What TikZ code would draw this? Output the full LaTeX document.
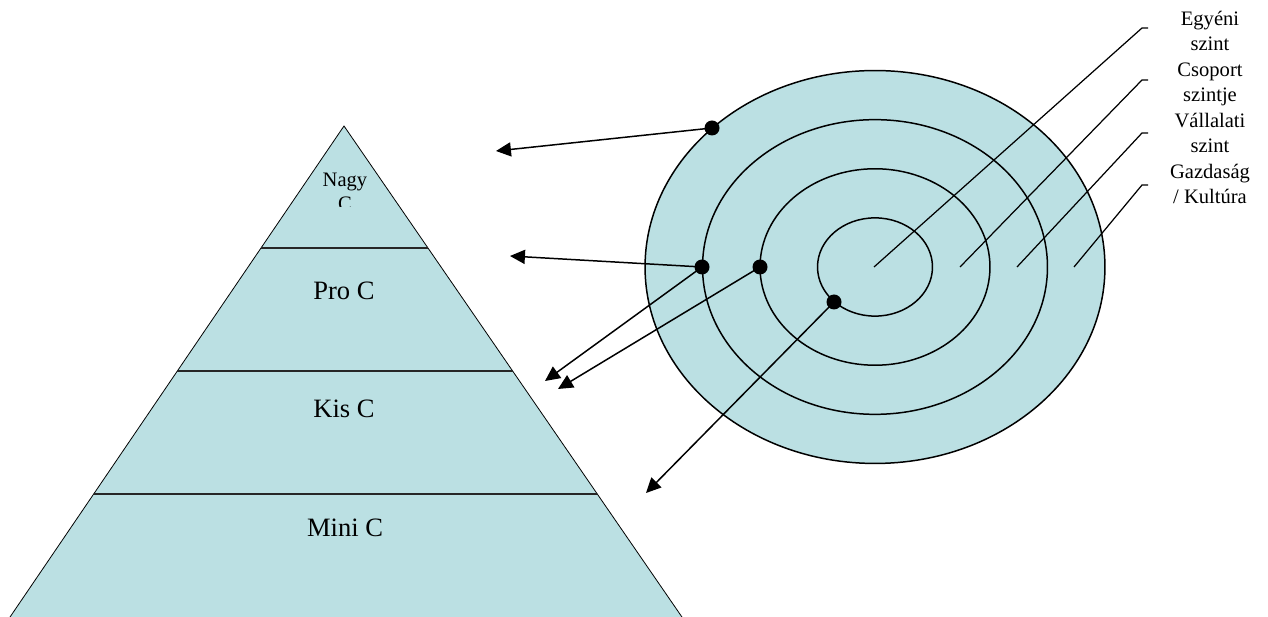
\documentclass[tikz,border=0pt]{standalone}
\usepackage{fontspec}
\setmainfont{Liberation Serif}
\usetikzlibrary{arrows.meta,calc}
\definecolor{pale}{HTML}{BBE0E3}
\begin{document}
\begin{tikzpicture}[x=0.02cm,y=-0.02cm,
  lbl/.style={font=\fontsize{11.7pt}{14pt}\selectfont, anchor=base, inner sep=0pt},
  big/.style={font=\fontsize{15.1pt}{18pt}\selectfont, anchor=base, inner sep=0pt},
  dotn/.style={circle, fill=black, inner sep=0pt, minimum size=0.3cm},
  arr/.style={line width=0.85pt, -{Triangle[length=8.5pt,width=8pt]}},
  lead/.style={line width=0.7pt},
  ring/.style={line width=0.85pt, draw=black},
  band/.style={line width=1.1pt, draw=black!85},
  edge/.style={line width=0.45pt, draw=black}]
\useasboundingbox (0,0) rectangle (1268,617);

% ---------- pyramid ----------
\coordinate (apex) at (344,126);
\coordinate (bl) at (8,620);
\coordinate (br) at (684,620);
\fill[pale] (apex) -- (bl) -- (br) -- cycle;
\draw[edge] (bl) -- (apex) -- (br);
\draw[band] ($(apex)!0.247!(bl)$) -- ($(apex)!0.247!(br)$);
\draw[band] ($(apex)!0.496!(bl)$) -- ($(apex)!0.496!(br)$);
\draw[band] ($(apex)!0.745!(bl)$) -- ($(apex)!0.745!(br)$);

\begin{scope}
  \clip (290,150) rectangle (400,207);
  \node[lbl] (nagy) at (345,187) {Nagy};
  \node[lbl] (nagyc) at (345,211) {C};
\end{scope}
\node[big] (pro) at (344,300) {Pro C};
\node[big] (kis) at (344,418) {Kis C};
\node[big] (mini) at (345,537) {Mini C};

% ---------- rings ----------
\coordinate (ctr) at (875,267);
\fill[pale] (ctr) ellipse [x radius=4.6cm, y radius=3.93cm];
\draw[ring] (ctr) ellipse [x radius=4.6cm, y radius=3.93cm];
\draw[ring] (ctr) ellipse [x radius=3.45cm, y radius=2.9475cm];
\draw[ring] (ctr) ellipse [x radius=2.3cm, y radius=1.965cm];
\draw[ring] (ctr) ellipse [x radius=1.15cm, y radius=0.9825cm];

% ---------- leaders ----------
\coordinate (c1) at (874,267);
\coordinate (c2) at (960,267);
\coordinate (c3) at (1017,267);
\coordinate (c4) at (1074,267);
\coordinate (s1) at (1148,28);  \coordinate (k1) at (1142,28);
\coordinate (s2) at (1148,80);  \coordinate (k2) at (1142,80);
\coordinate (s3) at (1148,133); \coordinate (k3) at (1142,133);
\coordinate (s4) at (1148,185); \coordinate (k4) at (1142,185);
\draw[lead] (s1) -- (k1) -- (c1);
\draw[lead] (s2) -- (k2) -- (c2);
\draw[lead] (s3) -- (k3) -- (c3);
\draw[lead] (s4) -- (k4) -- (c4);

\node[lbl] (l1a) at (1210,26) {Egyéni};
\node[lbl] (l1b) at (1210,51) {szint};
\node[lbl] (l2a) at (1210,77) {Csoport};
\node[lbl] (l2b) at (1210,102) {szintje};
\node[lbl] (l3a) at (1210,128) {Vállalati};
\node[lbl] (l3b) at (1210,153) {szint};
\node[lbl] (l4a) at (1210,179) {Gazdaság};
\node[lbl] (l4b) at (1210,204) {/ Kultúra};

% ---------- arrows ----------
\coordinate (t1) at (496,151);
\coordinate (t2) at (510,256);
\coordinate (t3) at (545,381);
\coordinate (t4) at (558,389);
\coordinate (t5) at (646,493);
\coordinate (p1) at (712,128);
\coordinate (p2) at (702,267);
\coordinate (p3) at (760,267);
\coordinate (p4) at (834,302);
\draw[arr] (p1) -- (t1);
\draw[arr] (p2) -- (t2);
\draw[arr] (p2) -- (t3);
\draw[arr] (p3) -- (t4);
\draw[arr] (p4) -- (t5);
\node[dotn] (d1) at (p1) {};
\node[dotn] (d2) at (p2) {};
\node[dotn] (d3) at (p3) {};
\node[dotn] (d4) at (p4) {};
\end{tikzpicture}
\end{document}
